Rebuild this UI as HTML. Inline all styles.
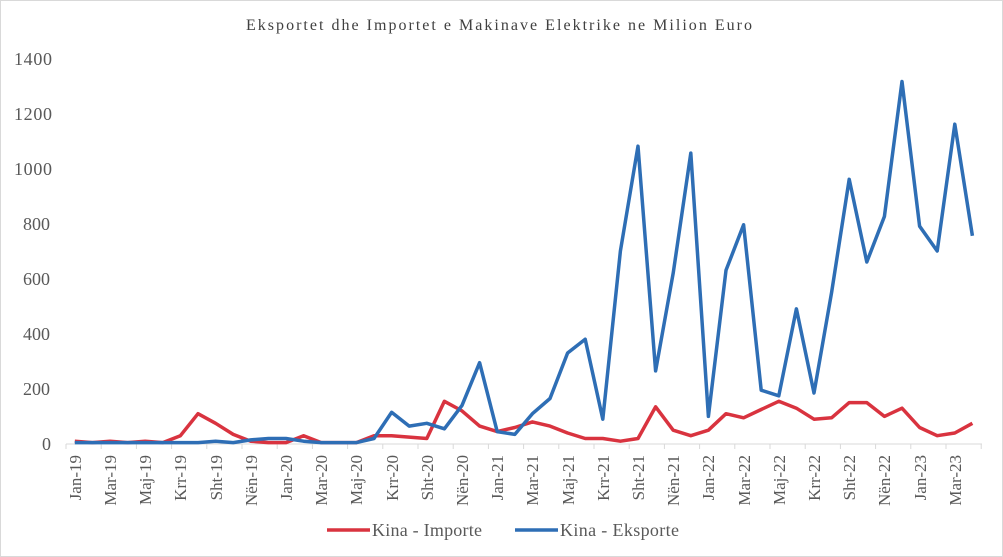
<!DOCTYPE html>
<html><head><meta charset="utf-8"><style>
html,body{margin:0;padding:0;background:#fff;}
svg{display:block;font-family:"Liberation Serif",serif;}
</style></head><body>
<svg width="1003" height="557" viewBox="0 0 1003 557">
<rect x="0.5" y="0.5" width="1002" height="556" fill="#fff" stroke="#d9d9d9"/>
<text x="246" y="30" font-size="16" fill="#404040" textLength="506" lengthAdjust="spacing">Eksportet dhe Importet e Makinave Elektrike  ne Milion Euro</text>
<g font-size="18" fill="#595959">
<text x="14" y="65" textLength="38">1400</text>
<text x="14" y="120" textLength="38">1200</text>
<text x="14" y="175" textLength="38">1000</text>
<text x="23" y="230">800</text>
<text x="23" y="285">600</text>
<text x="23" y="340">400</text>
<text x="23" y="395">200</text>
<text x="42" y="450">0</text>
</g>
<line x1="66" y1="444" x2="982" y2="444" stroke="#d9d9d9" stroke-width="1"/>
<g id="ticks" stroke="#d9d9d9"></g>
<g font-size="17" fill="#595959" text-anchor="end">
<text transform="translate(81,455) rotate(-90)">Jan-19</text>
<text transform="translate(116,455) rotate(-90)">Mar-19</text>
<text transform="translate(151,455) rotate(-90)">Maj-19</text>
<text transform="translate(186,455) rotate(-90)">Krr-19</text>
<text transform="translate(222,455) rotate(-90)">Sht-19</text>
<text transform="translate(257,455) rotate(-90)">Nën-19</text>
<text transform="translate(292,455) rotate(-90)">Jan-20</text>
<text transform="translate(327,455) rotate(-90)">Mar-20</text>
<text transform="translate(362,455) rotate(-90)">Maj-20</text>
<text transform="translate(398,455) rotate(-90)">Krr-20</text>
<text transform="translate(433,455) rotate(-90)">Sht-20</text>
<text transform="translate(468,455) rotate(-90)">Nën-20</text>
<text transform="translate(503,455) rotate(-90)">Jan-21</text>
<text transform="translate(538,455) rotate(-90)">Mar-21</text>
<text transform="translate(574,455) rotate(-90)">Maj-21</text>
<text transform="translate(609,455) rotate(-90)">Krr-21</text>
<text transform="translate(644,455) rotate(-90)">Sht-21</text>
<text transform="translate(679,455) rotate(-90)">Nën-21</text>
<text transform="translate(714,455) rotate(-90)">Jan-22</text>
<text transform="translate(750,455) rotate(-90)">Mar-22</text>
<text transform="translate(785,455) rotate(-90)">Maj-22</text>
<text transform="translate(820,455) rotate(-90)">Krr-22</text>
<text transform="translate(855,455) rotate(-90)">Sht-22</text>
<text transform="translate(890,455) rotate(-90)">Nën-22</text>
<text transform="translate(926,455) rotate(-90)">Jan-23</text>
<text transform="translate(961,455) rotate(-90)">Mar-23</text>
</g>
<polyline id="red" fill="none" stroke="#d9333f" stroke-width="3.5" stroke-linejoin="round"/>
<polyline id="blue" fill="none" stroke="#2e6eb5" stroke-width="3.5" stroke-linejoin="round"/>
<line x1="327" y1="530" x2="370" y2="530" stroke="#d9333f" stroke-width="3.5"/>
<text x="372" y="536" font-size="18" fill="#595959" textLength="110">Kina - Importe</text>
<line x1="515" y1="530" x2="558" y2="530" stroke="#2e6eb5" stroke-width="3.5"/>
<text x="560" y="536" font-size="18" fill="#595959" textLength="119">Kina - Eksporte</text>
</svg>
<script>
var r=[10,5,10,5,10,5,30,110,75,35,10,5,5,30,5,5,5,30,30,25,20,155,120,65,45,60,80,65,40,20,20,10,20,135,50,30,50,110,95,125,155,130,90,95,150,150,100,130,60,30,40,75];
var b=[5,5,5,5,5,5,5,5,10,5,15,20,20,10,5,5,5,20,115,65,75,55,140,295,45,35,110,165,330,380,90,700,1080,265,620,1055,100,630,795,195,175,490,185,550,960,660,825,1315,790,700,1160,755];
function pts(a){return a.map(function(v,i){return (66+17.6*(i+0.5)).toFixed(1)+","+(444-v*0.2757).toFixed(1)}).join(" ")}
document.getElementById("red").setAttribute("points",pts(r));
document.getElementById("blue").setAttribute("points",pts(b));
var t="";for(var k=0;k<=52;k+=2){var x=66+17.6*k;t+='<line x1="'+x+'" y1="444" x2="'+x+'" y2="449"/>';}
document.getElementById("ticks").innerHTML=t;
</script>
</body></html>
